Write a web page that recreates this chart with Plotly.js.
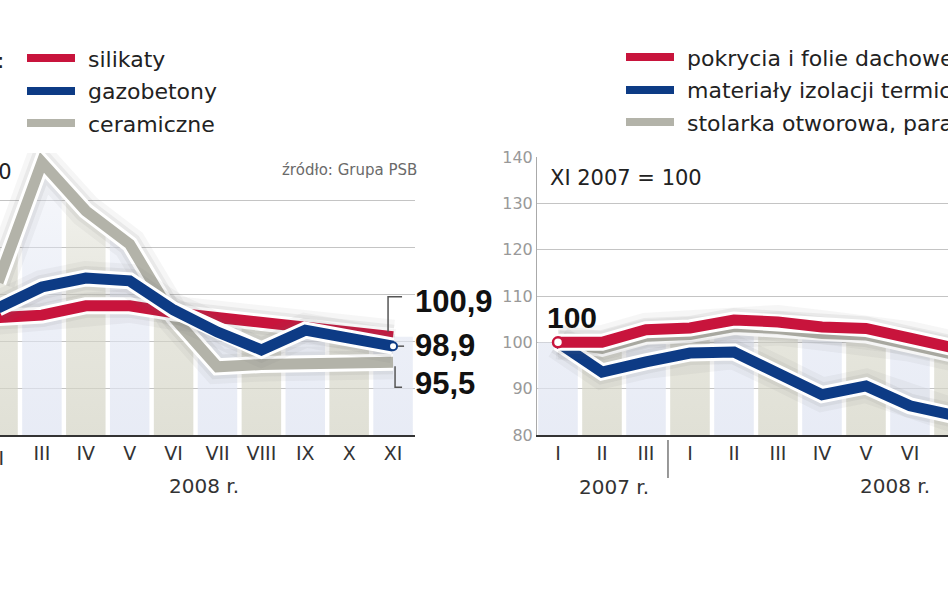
<!DOCTYPE html>
<html><head><meta charset="utf-8">
<script src="https://cdn.plot.ly/plotly-3.0.1.min.js"></script>
<style>html,body{margin:0;padding:0;background:#fff}#chart{width:948px;height:593px}</style>
</head><body><div id="chart"></div>
<script>
// ---- data: left chart (2008 r., months II..XI) ----
const leftMonths = ["II","III","IV","V","VI","VII","VIII","IX","X","XI"];
const silikaty   = [105.0,105.5,107.5,107.5,106.0,105.0,103.9,103.4,102.2,100.9];
const gazobetony = [107.0,111.5,113.4,112.8,106.6,101.9,98.1,102.3,100.6,98.9];
const ceramiczne = [112.5,138.0,127.7,120.6,105.0,94.5,95.0,95.3,95.5,95.5];
const leftNames  = ["silikaty","gazobetony","ceramiczne"];

// ---- data: right chart (2007 r. I-III, 2008 r. I-VII) ----
const rightMonths = ["I","II","III","I","II","III","IV","V","VI","VII"];
const pokrycia    = [100,100.0,102.7,103.1,104.8,104.4,103.3,103.0,100.9,98.8];
const izolacje    = [100,93.6,95.8,97.7,97.9,93.4,88.7,90.6,86.3,84.2];
const stolarka    = [100,98.7,101.3,101.7,103.4,103.0,101.9,101.6,99.5,97.4];
const rightNames  = ["pokrycia i folie dachowe","materiały izolacji termicznej","stolarka otworowa, parapety"];

const yTicks = [80,90,100,110,120,130,140];
const leftLastLabels = ["100,9","98,9","95,5"];

// ---- styling ----
const RED = "#c8143c", BLUE = "#0d3b85", GRAY = "#b3b3a9";
const FONT = "DejaVu Sans";
const W = 948, H = 593;
const px = v => v / W, py = v => 1 - v / H;

function envelope(x, list) {
  let m = -Infinity;
  list.forEach(s => {
    const n = s.length;
    const xc = Math.max(0, Math.min(n - 1, x));
    const i0 = Math.min(n - 2, Math.floor(xc));
    const t = xc - i0;
    const v = s[i0] + (s[i0 + 1] - s[i0]) * t;
    if (v > m) m = v;
  });
  return m;
}

function stripes(n, list, xa, ya, offset) {
  const out = [];
  const g = 0.05;
  for (let i = 0; i < n; i++) {
    const a = i - 0.5 + g, b = i + 0.5 - g;
    const xs = [], ys = [];
    for (let k = 0; k <= 24; k++) {
      const x = a + (b - a) * k / 24;
      xs.push(x); ys.push(envelope(x, list));
    }
    xs.push(b, a, a); ys.push(80, 80, ys[0]);
    const beige = (i + offset) % 2 === 1;
    const c = beige ? "214,214,200" : "224,229,242";
    out.push({
      x: xs, y: ys, xaxis: xa, yaxis: ya, mode: "lines", fill: "toself",
      fillcolor: "rgba(" + c + ",0.6)",
      fillgradient: {type: "vertical", start: 80, stop: 135,
        colorscale: [[0, "rgba(" + c + ",0.75)"], [0.6, "rgba(" + c + ",0.55)"], [1, "rgba(" + c + ",0.3)"]]},
      line: {width: 0}, hoverinfo: "skip", showlegend: false
    });
  }
  return out;
}

function lineSet(ys, color, xa, ya, name) {
  const xs = ys.map((_, i) => i);
  const base = {x: xs, y: ys, xaxis: xa, yaxis: ya, mode: "lines", hoverinfo: "skip", showlegend: false};
  return [
    Object.assign({}, base, {line: {color: "rgba(110,110,110,0.06)", width: 34}}),
    Object.assign({}, base, {line: {color: "rgba(110,110,110,0.09)", width: 24}}),
    Object.assign({}, base, {line: {color: "#ffffff", width: 17}}),
    Object.assign({}, base, {name: name, line: {color: color, width: 11}})
  ];
}

let traces = [];
traces = traces.concat(stripes(leftMonths.length, [silikaty, gazobetony, ceramiczne], "x", "y", 1));
traces = traces.concat(lineSet(ceramiczne, GRAY, "x", "y", leftNames[2]));
traces = traces.concat(lineSet(silikaty, RED, "x", "y", leftNames[0]));
traces = traces.concat(lineSet(gazobetony, BLUE, "x", "y", leftNames[1]));
traces.push({x: [gazobetony.length - 1], y: [gazobetony[gazobetony.length - 1]], xaxis: "x", yaxis: "y",
  mode: "markers", marker: {size: 8, color: "#fff", line: {color: BLUE, width: 2}}, showlegend: false, hoverinfo: "skip"});

traces = traces.concat(stripes(rightMonths.length, [pokrycia, izolacje, stolarka], "x2", "y2", 0));
traces = traces.concat(lineSet(stolarka, GRAY, "x2", "y2", rightNames[2]));
traces = traces.concat(lineSet(izolacje, BLUE, "x2", "y2", rightNames[1]));
traces = traces.concat(lineSet(pokrycia, RED, "x2", "y2", rightNames[0]));
traces.push({x: [0], y: [pokrycia[0]], xaxis: "x2", yaxis: "y2",
  mode: "markers", marker: {size: 10, color: "#fff", line: {color: RED, width: 2.5}}, showlegend: false, hoverinfo: "skip"});

const tickFont = {family: FONT, size: 19, color: "#333"};
const layout = {
  width: W, height: H, margin: {l: 0, r: 0, t: 0, b: 0},
  paper_bgcolor: "#fff", plot_bgcolor: "rgba(0,0,0,0)", showlegend: false,
  xaxis: {domain: [0, px(415)], range: [0.045, leftMonths.length - 0.5], anchor: "y",
    tickvals: leftMonths.map((_, i) => i), ticktext: leftMonths, tickfont: tickFont,
    showgrid: false, zeroline: false, showline: true, linecolor: "#333", linewidth: 2, ticks: ""},
  yaxis: {domain: [1 - 435 / H, 1 - 153 / H], range: [80, 140], anchor: "x", tickvals: yTicks,
    showticklabels: false, gridcolor: "#c4c4c4", gridwidth: 1, zeroline: false, showline: false, ticks: ""},
  xaxis2: {domain: [px(537), 1], range: [-0.477, 8.864], anchor: "y2",
    tickvals: rightMonths.map((_, i) => i), ticktext: rightMonths, tickfont: tickFont,
    showgrid: false, zeroline: false, showline: true, linecolor: "#333", linewidth: 2, ticks: ""},
  yaxis2: {domain: [1 - 435 / H, 1 - 157 / H], range: [80, 140], anchor: "x2", tickvals: yTicks,
    tickfont: {family: FONT, size: 16, color: "#999"}, gridcolor: "#c4c4c4", gridwidth: 1,
    zeroline: false, showline: true, linecolor: "#aaa", linewidth: 1, ticks: ""},
  annotations: [], shapes: []
};

const ann = layout.annotations, shp = layout.shapes;
function text(t, x, y, opts) {
  ann.push(Object.assign({text: t, xref: "paper", yref: "paper", x: px(x), y: py(y), xanchor: "left", yanchor: "middle",
    showarrow: false, font: {family: FONT, size: 22, color: "#222"}}, opts || {}));
}
// legends
const legColorsL = [RED, BLUE, GRAY];
const legY = [58, 91, 123];
leftNames.forEach((nm, i) => {
  shp.push({type: "line", xref: "paper", yref: "paper", x0: px(27), x1: px(75), y0: py(legY[i]), y1: py(legY[i]),
    line: {color: legColorsL[i], width: 8}});
  text(nm, 86, legY[i] + 1);
});
rightNames.forEach((nm, i) => {
  shp.push({type: "line", xref: "paper", yref: "paper", x0: px(626), x1: px(674), y0: py(legY[i] - 1), y1: py(legY[i] - 1),
    line: {color: legColorsL[i], width: 8}});
  text(nm, 685, legY[i]);
});
text(":", 6, 60, {xanchor: "right"});
text("XI 2007 = 100", 14, 172, {xanchor: "right", font: {family: FONT, size: 21, color: "#222"}});
text("XI 2007 = 100", 548, 178, {font: {family: FONT, size: 21, color: "#222"}});
text("źródło: Grupa PSB", 419, 170, {xanchor: "right", font: {family: FONT, size: 15, color: "#6a6a6a"}});
text("2008 r.", 204, 486, {xanchor: "center", font: {family: FONT, size: 20, color: "#333"}});
text("2007 r.", 614, 487, {xanchor: "center", font: {family: FONT, size: 20, color: "#333"}});
text("2008 r.", 895, 486, {xanchor: "center", font: {family: FONT, size: 20, color: "#333"}});

// first (partly hidden) month label of the left chart
text(leftMonths[0], -2, 458, {xanchor: "center", font: tickFont});

// end value labels (left chart)
const lastIdx = leftMonths.length - 1;
const lastVals = [silikaty[lastIdx], gazobetony[lastIdx], ceramiczne[lastIdx]];
const yShifts = [35, 1, -21];
lastVals.forEach((v, i) => {
  ann.push({text: leftLastLabels[i], xref: "x", yref: "y", x: lastIdx, y: v, xanchor: "left", yanchor: "middle",
    xshift: 20, yshift: yShifts[i], showarrow: false,
    font: {family: "Liberation Sans", size: 31, color: "#111", weight: 700}});
});
const leaderPaths = ["M-5,5 L-5,40 L9,40", "M5,0 L11,0", "M2,-4 L2,-25 L9,-25"];
lastVals.forEach((v, i) => {
  shp.push({type: "path", xref: "x", yref: "y", xsizemode: "pixel", ysizemode: "pixel", xanchor: lastIdx, yanchor: v,
    path: leaderPaths[i], line: {color: "#555", width: 1.5}});
});
// start label (right chart)
ann.push({text: String(pokrycia[0]), xref: "x2", yref: "y2", x: 0, y: pokrycia[0], xanchor: "center", yanchor: "middle",
  xshift: 14, yshift: 25, showarrow: false, font: {family: "Liberation Sans", size: 30, color: "#111", weight: 700}});
// year separator
shp.push({type: "line", xref: "x2", yref: "paper", x0: 2.5, x1: 2.5, y0: py(440), y1: py(478), line: {color: "#333", width: 1}});

Plotly.newPlot("chart", traces, layout, {staticPlot: true, displayModeBar: false});
</script></body></html>
